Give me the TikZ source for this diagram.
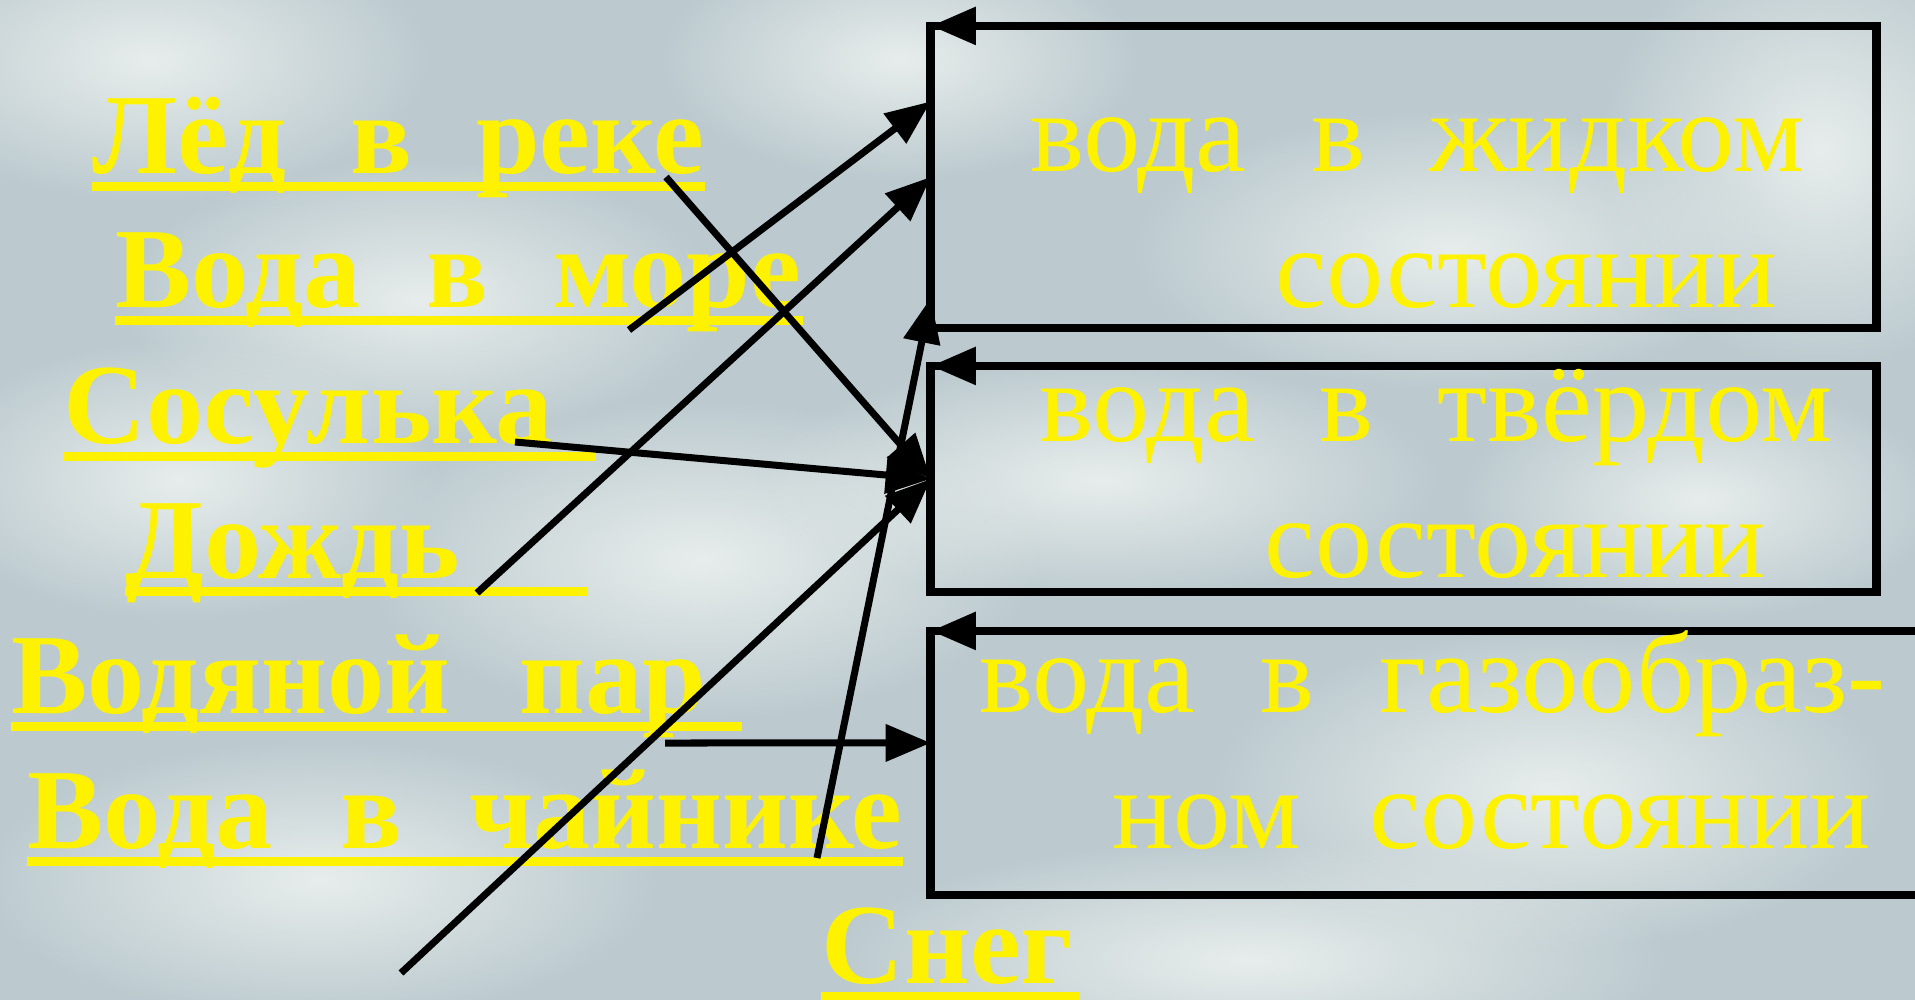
\documentclass[tikz,border=0pt]{standalone}
\usepackage{fontspec}
\setmainfont{Liberation Serif}
\usetikzlibrary{arrows.meta,calc,fadings}

\definecolor{sky}{RGB}{188,202,207}
\definecolor{cloud}{RGB}{242,246,243}
\tikzfading[name=soft,inner color=transparent!0,outer color=transparent!100]

\begin{document}
\begin{tikzpicture}[x=0.01cm,y=-0.01cm,>={Triangle[length=0.45cm,width=0.36cm]},
  lbl/.style={anchor=base west,inner sep=0,text=yellow,
    font=\bfseries\fontsize{32.5}{39}\selectfont},
  txt/.style={anchor=base west,inner sep=0,text=yellow,align=left,
    font=\fontsize{32.5}{38.4}\selectfont},
  box/.style={draw,line width=0.085cm,inner sep=0,outer sep=0},
  uline/.style={yellow,line width=0.09cm},
  link/.style={->,line width=0.07cm},
  puff/.style={cloud,opacity=.8,path fading=soft}]
% sky
\useasboundingbox (0,0) rectangle (1915,1000);
\fill[sky] (0,0) rectangle (1915,1000);
\fill[puff] (150,60) ellipse (2.8cm and 1.4cm);
\fill[puff] (700,560) ellipse (3.4cm and 1.6cm);
\fill[puff] (420,300) ellipse (3cm and 1.4cm);
\fill[puff] (180,480) ellipse (2.6cm and 1.4cm);
\fill[puff] (1250,960) ellipse (4.2cm and 1.2cm);
\fill[puff] (1820,150) ellipse (2.2cm and 2.2cm);
\fill[puff] (1550,790) ellipse (3.4cm and 1.6cm);
\fill[puff] (320,880) ellipse (3.4cm and 1.4cm);
\fill[puff] (1100,480) ellipse (3.4cm and 1.2cm);
\fill[puff] (1450,250) ellipse (3.2cm and 1.4cm);
\fill[puff] (900,60) ellipse (2.4cm and 1.2cm);
\fill[puff] (1700,500) ellipse (2.4cm and 1.2cm);

% boxes
\node[box,minimum width=9.45cm,minimum height=3.02cm] (liquid) at (1403.5,177) {};
\node[box,minimum width=9.45cm,minimum height=2.26cm] (solid) at (1403.5,479) {};
\node[box,minimum width=9.95cm,minimum height=2.64cm] (gas) at (1428.5,763) {};
\foreach \b in {liquid,solid,gas}
  \draw[->,line width=0.085cm] (\b.north east) -- (\b.north west);

\node[txt] (liquidtxt) at (1030,307) {\makebox[7.74cm][s]{вода в жидком}\\\hspace*{2.45cm}состоянии};
\node[txt] (solidtxt) at (1039,577) {\makebox[7.93cm][s]{вода в твёрдом}\\\hspace*{2.25cm}состоянии};
\node[txt] (gastxt) at (979,848) {\makebox[9.05cm][s]{вода в газообраз-}\\\hspace*{1.33cm}\makebox[7.57cm][s]{ном состоянии}};

% labels
\node[lbl,text width=6.11cm] (led) at (92,173) {\makebox[6.11cm]{Лёд\hfill в\hfill реке}};
\node[lbl,text width=6.86cm] (sea) at (115,307) {\makebox[6.85cm]{Вода\hfill в\hfill море}};
\node[lbl,text width=5.31cm] (icicle) at (63,443) {Сосулька};
\node[lbl,text width=4.61cm] (rain) at (125,578) {Дождь};
\node[lbl,text width=7.29cm] (steam) at (11,713) {\makebox[6.94cm]{Водяной\hfill пар}};
\node[lbl,text width=8.74cm] (kettle) at (27,848) {\makebox[8.74cm]{Вода\hfill в\hfill чайнике}};
\node[lbl,text width=2.57cm] (snow) at (821,983) {Снег};
\foreach \n in {led,sea,icicle,rain,steam,kettle,snow}
  \draw[uline] ($(\n.base west)+(0,13)$) -- ($(\n.base east)+(0,13)$);

% arrows
\coordinate (ledend) at (666,177);
\coordinate (seaend) at (629,330);
\coordinate (icicleend) at (515,442);
\coordinate (rainend) at (477,593);
\coordinate (steamend) at (665,743);
\coordinate (kettleend) at (817,858);
\coordinate (loose) at (401,973);
\coordinate (liquidA) at ($(liquid.north west)!.25!(liquid.south west)$);
\coordinate (liquidC) at ($(liquid.north west)!.9!(liquid.south west)$);
\coordinate (gasA) at ($(gas.north west)!.424!(gas.south west)$);
\draw[link] (ledend) -- (solid.west);
\draw[link] (seaend) -- (liquidA);
\draw[link] (icicleend) -- (solid.west);
\draw[link] (rainend) -- (liquid.west);
\draw[link] (loose) -- (solid.west);
\draw[link] (kettleend) -- (liquidC);
\draw[link] (steamend) -- (gasA);
\end{tikzpicture}
\end{document}
